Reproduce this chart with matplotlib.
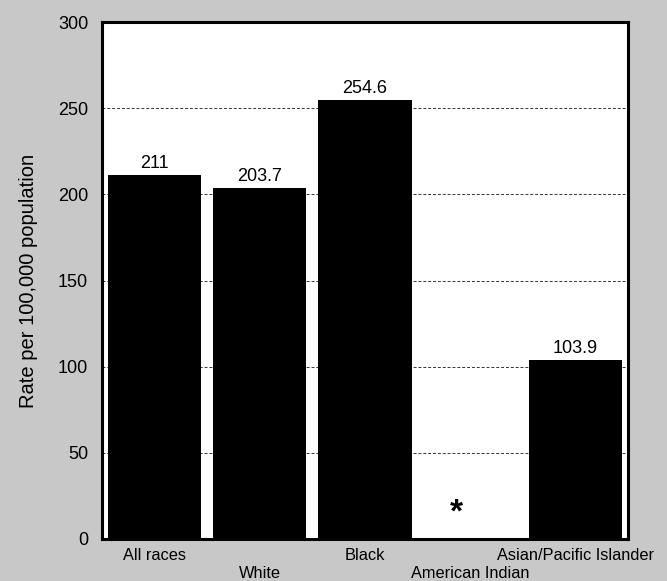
import matplotlib.pyplot as plt
import numpy as np

plt.rcParams['font.family'] = ['Liberation Sans', 'DejaVu Sans']

categories = ['All races', 'White', 'Black', 'American Indian', 'Asian/Pacific Islander']
rates = [211, 203.7, 254.6, np.nan, 103.9]
rate_labels = ['211', '203.7', '254.6', '*', '103.9']

bg = '#c8c8c8'
fig = plt.figure(figsize=(6.67, 5.81), dpi=100, facecolor=bg)
ax = fig.add_axes([0.153, 0.0723, 0.7885, 0.8897])
ax.set_facecolor('white')

x = np.arange(len(categories))
heights = [0 if np.isnan(v) else v for v in rates]
ax.bar(x, heights, width=0.885, color='black', zorder=3)

for xi, v, lab in zip(x, rates, rate_labels):
    if np.isnan(v):
        ax.text(xi - 0.13, 15, lab, ha='center', va='center', fontsize=24, fontweight='bold')
    else:
        ax.text(xi, v + 2, lab, ha='center', va='bottom', fontsize=13)

ax.set_xlim(-0.5, len(categories) - 0.5)
ax.set_ylim(0, 300)
ax.set_yticks(range(0, 301, 50))
ax.yaxis.grid(True, linestyle=(0, (3, 2)), color='#333333', linewidth=0.7, zorder=0)
ax.tick_params(axis='y', length=0, pad=10, labelsize=13)
ax.set_xticks([])

# staggered category labels
for i, name in enumerate(categories):
    y = -0.031 if i % 2 == 0 else -0.066
    ax.text(i, y, name, transform=ax.get_xaxis_transform(), ha='center', va='center', fontsize=11.8)

for s in ax.spines.values():
    s.set_linewidth(2.2)

ax.set_ylabel('Rate per 100,000 population', fontsize=14.5, labelpad=14)

plt.savefig('out.png', dpi=100, facecolor=bg)
